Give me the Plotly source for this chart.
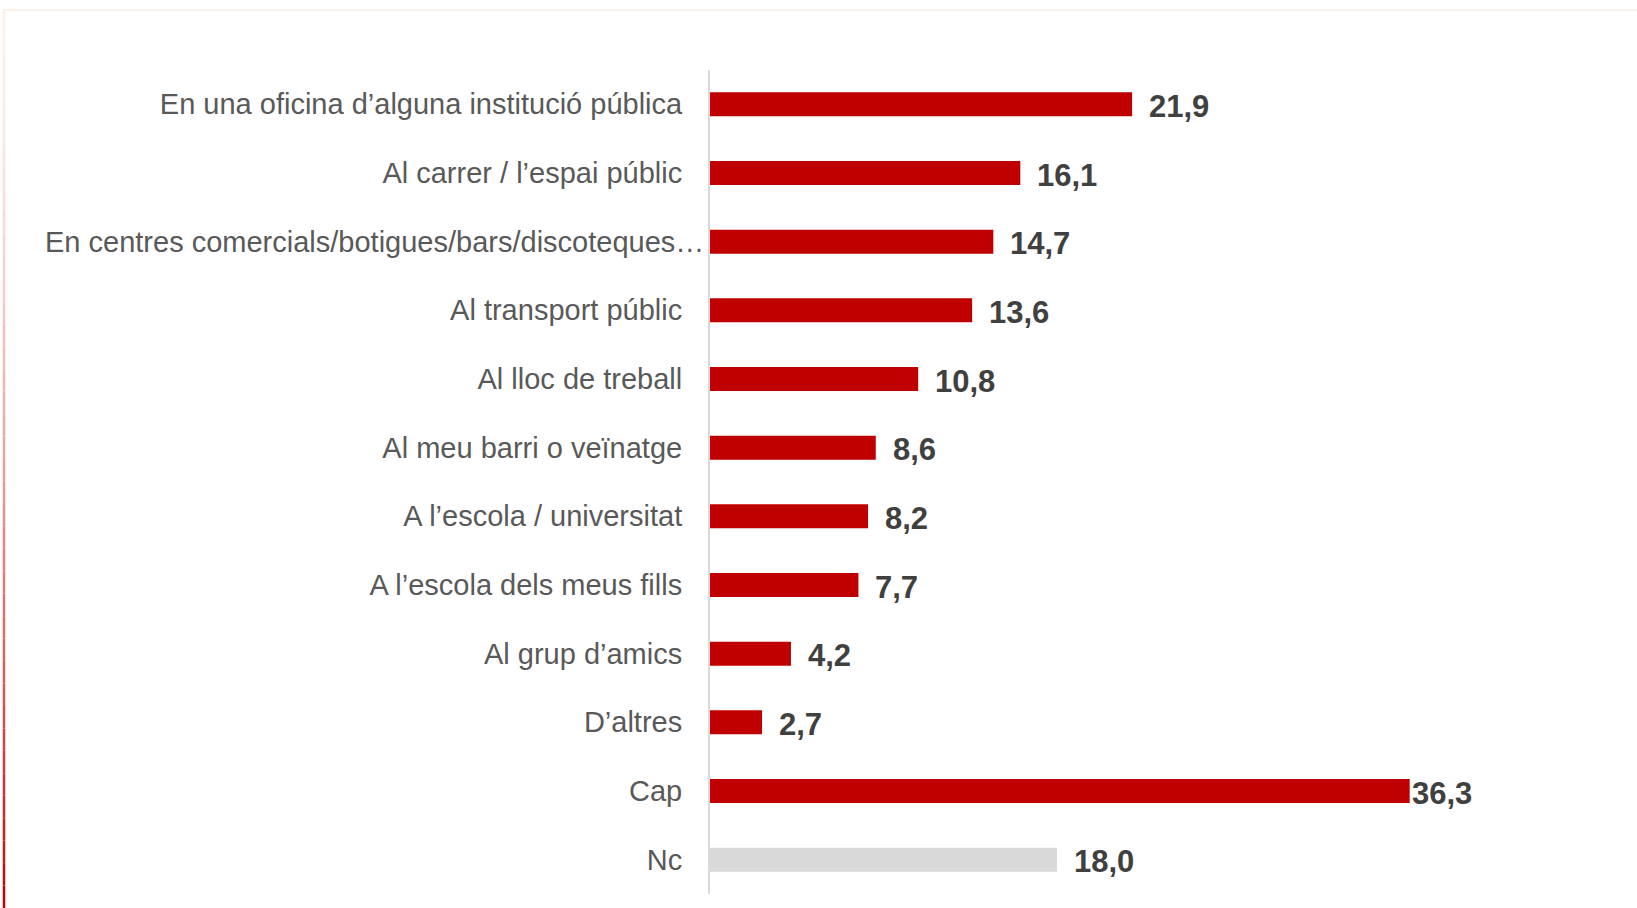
import plotly.graph_objects as go

categories = [
    "En una oficina d’alguna institució pública",
    "Al carrer / l’espai públic",
    "En centres comercials/botigues/bars/discoteques…",
    "Al transport públic",
    "Al lloc de treball",
    "Al meu barri o veïnatge",
    "A l’escola / universitat",
    "A l’escola dels meus fills",
    "Al grup d’amics",
    "D’altres",
    "Cap",
    "Nc",
]
values = [21.9, 16.1, 14.7, 13.6, 10.8, 8.6, 8.2, 7.7, 4.2, 2.7, 36.3, 18.0]
labels = ["21,9", "16,1", "14,7", "13,6", "10,8", "8,6", "8,2", "7,7", "4,2", "2,7", "36,3", "18,0"]

RED = "#C00000"
GREY_BAR = "#D9D9D9"
colors = [GREY_BAR if c == "Nc" else RED for c in categories]

W, H = 1637, 908
ML, MR, MT, MB = 710, 156, 70, 14
PW, PH = W - ML - MR, H - MT - MB

CAT_FONT = dict(family="Liberation Sans", size=29, color="#595959")
VAL_FONT = dict(family="Liberation Sans", size=31, color="#404040", weight="bold")

def px_x(p):
    return (p - ML) / PW

def px_y(p):
    return 1 - (p - MT) / PH

fig = go.Figure(
    go.Bar(
        y=categories,
        x=values,
        orientation="h",
        marker=dict(color=colors, line=dict(width=0)),
        hoverinfo="skip",
    )
)

# truncated (ellipsis) labels overflow towards the axis, like the original
ticktext = ["" if c.endswith("…") else c for c in categories]
for c in categories:
    if c.endswith("…"):
        fig.add_annotation(x=0, xref="paper", y=c, text=c, showarrow=False,
                           xanchor="right", yanchor="middle", xshift=-4,
                           font=CAT_FONT)

vmax = max(values)
for c, v, t in zip(categories, values, labels):
    fig.add_annotation(
        x=v, y=c, text=t, showarrow=False, xanchor="left", yanchor="middle",
        xshift=0 if v == vmax else 15, yshift=-2,
        font=VAL_FONT,
    )

# frame: top light line and left gradient line
fig.add_shape(type="line", xref="paper", yref="paper",
              x0=px_x(3), x1=px_x(W), y0=px_y(10), y1=px_y(10),
              line=dict(color="#FDF1E7", width=2))
nseg = 40
top, bot = 10, H
c0 = (253, 241, 231)
c1 = (192, 0, 0)
for i in range(nseg):
    f = (i + 0.5) / nseg
    g = f ** 1.6
    col = tuple(int(round(c0[k] + (c1[k] - c0[k]) * g)) for k in range(3))
    ya = top + (bot - top) * i / nseg
    yb = top + (bot - top) * (i + 1) / nseg
    fig.add_shape(type="line", xref="paper", yref="paper",
                  x0=px_x(4), x1=px_x(4), y0=px_y(ya), y1=px_y(yb),
                  line=dict(color="rgb(%d,%d,%d)" % col, width=2.5))

fig.update_layout(
    width=W, height=H,
    margin=dict(l=ML, r=MR, t=MT, b=MB),
    paper_bgcolor="white", plot_bgcolor="white",
    bargap=0.65,
    showlegend=False,
    xaxis=dict(range=[0, 40], visible=False, fixedrange=True),
    yaxis=dict(
        autorange="reversed",
        tickmode="array", tickvals=categories, ticktext=ticktext,
        showline=True, linecolor="#D9D9D9", linewidth=2,
        ticks="", ticklabelstandoff=20,
        tickfont=CAT_FONT,
        showgrid=False, zeroline=False, fixedrange=True,
    ),
)

fig.write_html(
    "out.html",
    config={"displayModeBar": False},
    post_script="document.body.style.margin='0px';document.body.style.overflow='hidden';",
)
